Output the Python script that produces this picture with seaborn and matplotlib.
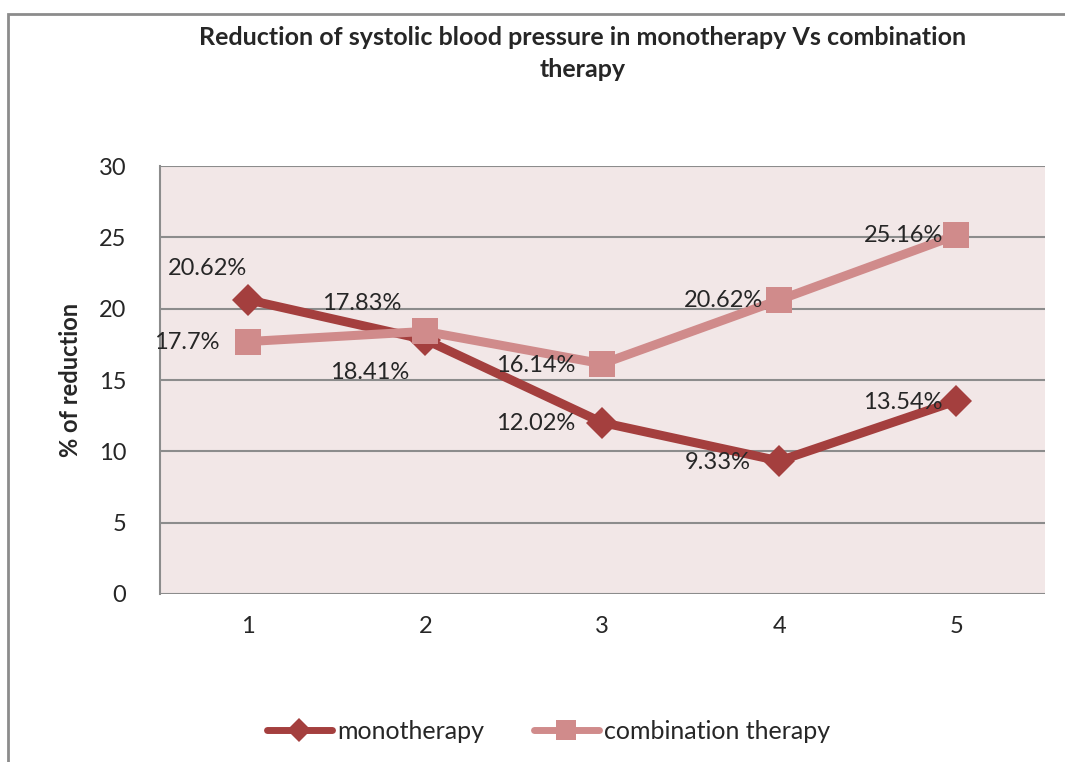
import matplotlib
matplotlib.use("Agg")
import matplotlib.pyplot as plt
import numpy as np
import pandas as pd
import seaborn as sns
from matplotlib.patches import Rectangle
from matplotlib.lines import Line2D

# data
groups = [1, 2, 3, 4, 5]
monotherapy = [20.62, 17.83, 12.02, 9.33, 13.54]
combination = [17.7, 18.41, 16.14, 20.62, 25.16]
mono_labels = ["20.62%", "17.83%", "12.02%", "9.33%", "13.54%"]
combo_labels = ["17.7%", "18.41%", "16.14%", "20.62%", "25.16%"]

mono_color = "#A43F3E"
combo_color = "#D08B8B"

sns.set_style("white")
plt.rcParams["font.family"] = ["Lato", "DejaVu Sans"]

fig = plt.figure(figsize=(10.65, 7.62), dpi=100)
ax = fig.add_axes([0.150, 0.2205, 0.831, 0.5615])
ax.set_facecolor("#F2E7E7")

# monotherapy first, combination drawn on top of it
sns.lineplot(x=groups, y=monotherapy, color=mono_color, marker="D",
             linewidth=6.5, markersize=16, markeredgewidth=0, ax=ax, zorder=3)
sns.lineplot(x=groups, y=combination, color=combo_color, marker="s",
             linewidth=6.5, markersize=19, markeredgewidth=0, ax=ax, zorder=4)

# label offsets in pixels (dx, dy) relative to each point
mono_off = [(-41, 31), (-64, 36), (-67, -1), (-62, -2), (-53, -2)]
combo_off = [(-61, -1), (-56, -41), (-67, -2), (-56, -1), (-53, 0)]
for x, y, t, o in zip(groups, monotherapy, mono_labels, mono_off):
    ax.annotate(t, (x, y), xytext=o, textcoords="offset pixels",
                ha="center", va="center", fontsize=17, zorder=5)
for x, y, t, o in zip(groups, combination, combo_labels, combo_off):
    ax.annotate(t, (x, y), xytext=o, textcoords="offset pixels",
                ha="center", va="center", fontsize=17, zorder=5)

ax.set_xlim(0.5, 5.5)
ax.set_ylim(0, 30)
ax.set_xticks(groups)
ax.set_yticks(range(0, 31, 5))
ax.tick_params(axis="x", length=0, labelsize=17, pad=16)
ax.tick_params(axis="y", length=0, labelsize=17, pad=24)
ax.yaxis.grid(True, color="#8C8C8C", linewidth=1.5)
ax.set_axisbelow(True)
for side in ["top", "right", "bottom"]:
    ax.spines[side].set_visible(False)
ax.spines["left"].set_color("#8C8C8C")
ax.spines["left"].set_linewidth(1.5)
ax.set_xlabel("")
ax.set_ylabel("% of reduction", fontsize=17, fontweight="bold", labelpad=12)

fig.text(0.547, 0.93, "Reduction of systolic blood pressure in monotherapy Vs combination\ntherapy",
         ha="center", va="center", fontsize=18, fontweight="bold", linespacing=1.45)

# outer chart frame
fig.patches.append(Rectangle((8 / 1065, -0.01), 1.1, 1 - 14 / 762 + 0.01,
                             transform=fig.transFigure, fill=False,
                             edgecolor="#8C8C8C", linewidth=2))

handles = [
    Line2D([], [], color=mono_color, linewidth=5, marker="D", markersize=12, markeredgewidth=0),
    Line2D([], [], color=combo_color, linewidth=5, marker="s", markersize=15, markeredgewidth=0),
]
fig.legend(handles, ["monotherapy", "combination therapy"], loc="center",
           bbox_to_anchor=(0.515, 0.04), ncol=2, frameon=False, fontsize=18,
           handlelength=2.6, columnspacing=2.0, handletextpad=0.2)

fig.savefig("out.png", dpi=100)
